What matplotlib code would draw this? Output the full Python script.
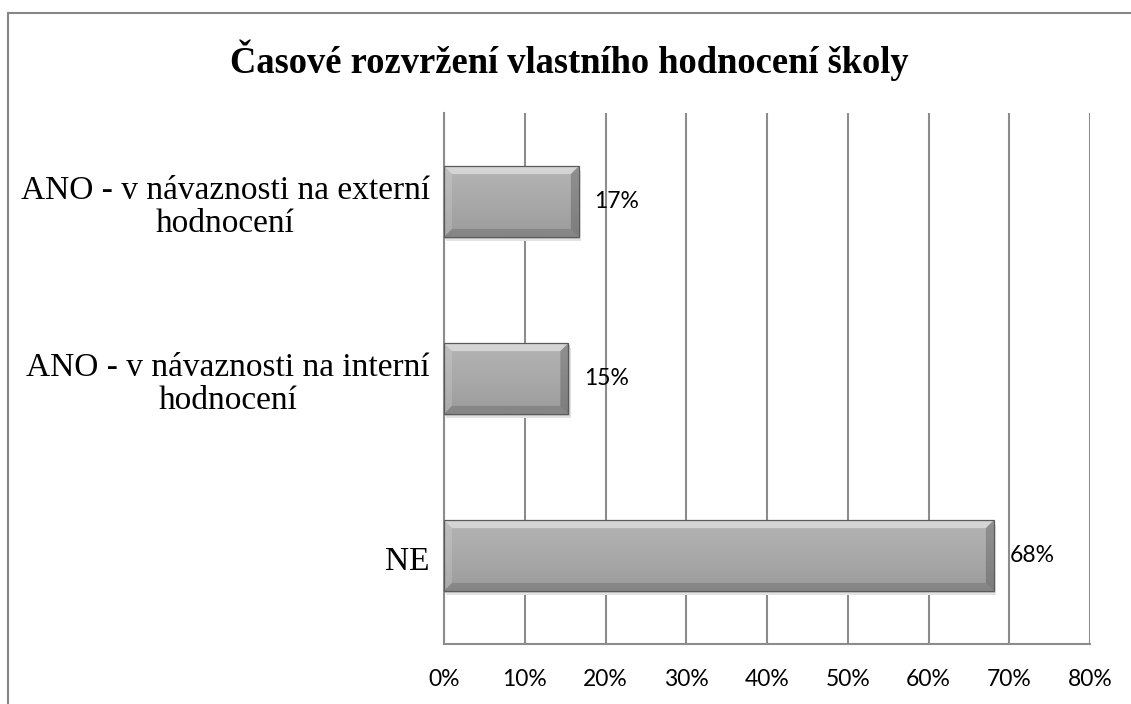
import numpy as np
import matplotlib
matplotlib.use("Agg")
from matplotlib import pyplot as plt
from matplotlib.patches import Rectangle, Polygon
from matplotlib.colors import LinearSegmentedColormap
from matplotlib.transforms import ScaledTranslation, blended_transform_factory

# data
categories = ["NE", "ANO - v návaznosti na interní\nhodnocení", "ANO - v návaznosti na externí\nhodnocení"]
values = [68.1, 15.4, 16.7]
value_labels = ["68%", "15%", "17%"]
xticks = [0, 10, 20, 30, 40, 50, 60, 70, 80]

title = "Časové rozvržení vlastního hodnocení školy"

fig = plt.figure(figsize=(11.31, 7.04), dpi=100)
ax = fig.add_axes([444/1131, 1-644/704, (1090-444)/1131, (644-113)/704])

# outer chart frame (runs off the right and bottom edges like the reference)
fig.patches.append(Rectangle((8/1131, -0.1), 1.2, 1-13/704+0.1, transform=fig.transFigure,
                             fill=False, edgecolor="#868686", lw=1.5, clip_on=False))

y = np.arange(len(categories))
bars = ax.barh(y, values, height=0.4, color="none", lw=0, zorder=3)

ax.set_xlim(0, 80)
ax.set_ylim(-0.5, len(categories) - 0.5)

# bevel size: ~8 px in each direction
bx = 8 * 80 / (1090 - 444)
by = 8 * 3 / (644 - 113)
grad = np.linspace(0, 1, 64).reshape(-1, 1)
cmap = LinearSegmentedColormap.from_list("g", ["#9c9c9c", "#a9a9a9", "#b4b4b4"])
for b in bars:
    x0, y0 = b.get_x(), b.get_y()
    w, h = b.get_width(), b.get_height()
    x1, y1 = x0 + w, y0 + h
    # soft shadow
    ax.add_patch(Rectangle((x0 + 0.3, y0 - 0.025), w, h, color="#e2e2e2", lw=0, zorder=2))
    ax.add_patch(Rectangle((x0 + 0.15, y0 - 0.012), w, h, color="#c8c8c8", lw=0, zorder=2))
    ax.imshow(grad, cmap=cmap, extent=(x0, x1, y0, y1), aspect="auto",
              origin="lower", zorder=3)
    # bevel sides
    ax.add_patch(Polygon([(x0, y1), (x1, y1), (x1 - bx, y1 - by), (x0 + bx, y1 - by)],
                         color="white", alpha=0.45, lw=0, zorder=4))
    ax.add_patch(Polygon([(x0, y0), (x0, y1), (x0 + bx, y1 - by), (x0 + bx, y0 + by)],
                         color="white", alpha=0.15, lw=0, zorder=4))
    ax.add_patch(Polygon([(x1, y0), (x1, y1), (x1 - bx, y1 - by), (x1 - bx, y0 + by)],
                         color="black", alpha=0.2, lw=0, zorder=4))
    ax.add_patch(Polygon([(x0, y0), (x1, y0), (x1 - bx, y0 + by), (x0 + bx, y0 + by)],
                         color="black", alpha=0.14, lw=0, zorder=4))
    ax.add_patch(Rectangle((x0, y0), w, h, fill=False, edgecolor="#5a5a5a", lw=0.9, zorder=6))

for v, lab, yy in zip(values, value_labels, y):
    ax.text(v + 1.9, yy, lab, va="center", ha="left", fontsize=16.5, family="Lato", zorder=7)

ax.set_xticks(xticks)
ax.set_xticklabels([f"{t}%" for t in xticks], family="Lato", fontsize=16.5)

# category labels drawn as text so they can sit a little below the bar centre
ax.set_yticks(y)
ax.set_yticklabels([])
cat_tr = blended_transform_factory(ax.transAxes, ax.transData) + \
    ScaledTranslation(-0.14, -0.06, fig.dpi_scale_trans)
for cat, yy in zip(categories, y):
    ax.text(0, yy, cat, transform=cat_tr, ha="right", va="center", multialignment="center",
            family="Liberation Serif", fontsize=24, linespacing=1.1)

ax.tick_params(axis="both", length=0)
ax.tick_params(axis="x", pad=18)
ax.xaxis.grid(True, color="#8c8c8c", lw=1.5, zorder=0)
ax.set_axisbelow(True)
for s in ["top", "right"]:
    ax.spines[s].set_visible(False)
for s in ["left", "bottom"]:
    ax.spines[s].set_color("#8c8c8c")
    ax.spines[s].set_linewidth(1.5)

fig.text(569/1131, 1-60/704, title, ha="center", va="center",
         family="Liberation Serif", fontweight="bold", fontsize=26.3)

fig.savefig("out.png", dpi=100)
